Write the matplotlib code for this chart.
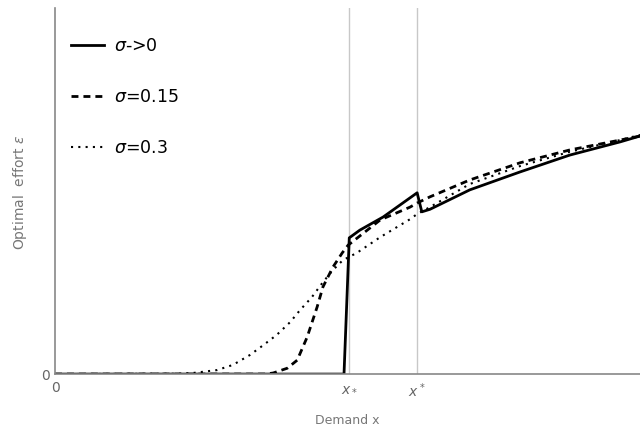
import matplotlib.pyplot as plt
import numpy as np

# demand x (axis runs 0..10), optimal effort (axis runs 0..10)
x_low = 5.03   # x_*
x_high = 6.19  # x^*

x_s0 = [0, 4.94, 5.03, 5.21, 5.61, 6.19, 6.27, 6.41, 7.09, 7.95, 8.80, 9.66, 10.0]
e_s0 = [0, 0, 3.72, 3.93, 4.29, 4.95, 4.43, 4.50, 5.03, 5.52, 5.98, 6.34, 6.50]

x_s15 = [0, 3.60, 3.73, 3.97, 4.14, 4.31, 4.48, 4.58, 4.75, 4.91, 5.01, 5.56, 6.07,
         6.19, 6.41, 7.09, 7.95, 8.80, 9.66, 10.0]
e_s15 = [0, 0, 0.03, 0.16, 0.38, 1.01, 1.83, 2.38, 2.92, 3.31, 3.52, 4.21, 4.56,
         4.67, 4.84, 5.30, 5.77, 6.12, 6.39, 6.50]

x_s30 = [0, 2.14, 2.36, 2.77, 3.04, 3.33, 3.56, 3.79, 4.02, 4.19, 4.39, 4.58, 4.75,
         4.92, 5.16, 5.56, 6.07, 6.19, 6.41, 7.09, 7.95, 8.80, 9.66, 10.0]
e_s30 = [0, 0.01, 0.03, 0.11, 0.25, 0.52, 0.79, 1.07, 1.42, 1.75, 2.10, 2.51, 2.84,
         3.11, 3.31, 3.74, 4.23, 4.37, 4.56, 5.19, 5.68, 6.07, 6.39, 6.53]

labels = ['$\\sigma$->0', '$\\sigma$=0.15', '$\\sigma$=0.3']

fig = plt.figure(figsize=(6.4, 4.36), dpi=100)
ax = fig.add_axes([0.086, 0.142, 0.914, 0.84])

grey = '#777777'
ax.axvline(x_low, color='#c8c8c8', lw=1.0, zorder=1)
ax.axvline(x_high, color='#c8c8c8', lw=1.0, zorder=1)

ax.plot(x_s0, e_s0, color='black', lw=2.0, ls='-', label=labels[0])
ax.plot(x_s15, e_s15, color='black', lw=2.0, ls=(0, (2.5, 1.8)), label=labels[1])
ax.plot(x_s30, e_s30, color='black', lw=1.5, ls=(0, (1, 2.5)), label=labels[2])

ax.set_xlim(0, 10)
ax.set_ylim(0, 10)

for s in ['top', 'right']:
    ax.spines[s].set_visible(False)
for s in ['left', 'bottom']:
    ax.spines[s].set_color('#888888')
    ax.spines[s].set_linewidth(1.2)

ax.set_xticks([0, x_low, x_high])
ax.set_xticklabels(['0', '$x_*$', '$x^*$'])
ax.set_yticks([0])
ax.set_yticklabels(['0'])
ax.tick_params(axis='both', length=0, labelsize=10, colors='#666666', pad=5)
ax.tick_params(axis='y', pad=4)

ax.set_xlabel('Demand x', fontsize=9, color=grey, labelpad=10)
ax.set_ylabel('Optimal  effort $\\varepsilon$', fontsize=10, color=grey)
ax.yaxis.set_label_coords(-0.045, 0.497)

leg = ax.legend(loc='upper left', bbox_to_anchor=(0.0, 0.963), frameon=False,
                fontsize=12.5, handlelength=1.9, handletextpad=0.6,
                labelspacing=1.9, borderaxespad=0.5)

plt.savefig('out.png', dpi=100)
